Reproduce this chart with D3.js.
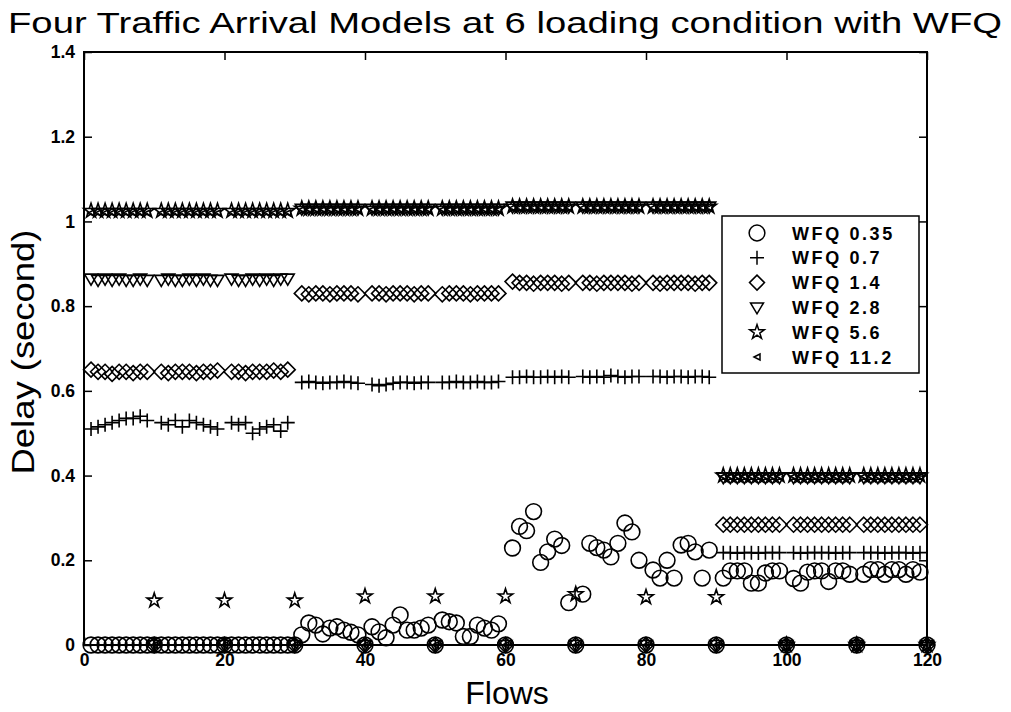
<!DOCTYPE html>
<html>
<head>
<meta charset="utf-8">
<script src="https://cdn.jsdelivr.net/npm/d3@7"></script>
<style>
  body { margin: 0; background: #fff; }
  svg { display: block; }
  text { font-family: "Liberation Sans", Arial, sans-serif; fill: #000; }
</style>
</head>
<body>
<svg id="chart" width="1011" height="712"></svg>
<script>
// flows 1..120, one value per flow (rows of ten flows)
const flows = d3.range(1, 121);

const wfq035 = [
  0,0,0,0,0,0,0,0,0,0,
  0,0,0,0,0,0,0,0,0,0,
  0,0,0,0,0,0,0,0,0,0,
  0.024,0.052,0.047,0.026,0.040,0.043,0.035,0.030,0.024,0,
  0.043,0.031,0.017,0.047,0.071,0.035,0.035,0.040,0.047,0,
  0.059,0.055,0.052,0.020,0.020,0.047,0.040,0.035,0.050,0,
  0.229,0.280,0.270,0.315,0.195,0.220,0.250,0.235,0.100,0,
  0.120,0.240,0.230,0.224,0.208,0.240,0.288,0.267,0.200,0,
  0.177,0.158,0.200,0.158,0.236,0.240,0.220,0.158,0.224,0,
  0.158,0.175,0.175,0.175,0.146,0.146,0.170,0.175,0.175,0,
  0.157,0.146,0.172,0.175,0.175,0.150,0.175,0.175,0.167,0,
  0.167,0.178,0.178,0.167,0.178,0.178,0.167,0.178,0.172,0
];

const wfq07 = [
  0.510,0.515,0.520,0.525,0.530,0.535,0.535,0.540,0.530,0,
  0.525,0.520,0.530,0.515,0.530,0.525,0.520,0.515,0.510,0,
  0.525,0.520,0.525,0.500,0.510,0.515,0.520,0.505,0.525,0,
  0.620,0.622,0.620,0.618,0.620,0.620,0.622,0.620,0.618,0,
  0.615,0.612,0.615,0.618,0.620,0.620,0.618,0.620,0.620,0,
  0.620,0.620,0.622,0.620,0.620,0.622,0.620,0.620,0.622,0,
  0.632,0.632,0.634,0.632,0.632,0.634,0.632,0.634,0.632,0,
  0.634,0.632,0.634,0.632,0.636,0.634,0.632,0.634,0.634,0,
  0.634,0.634,0.632,0.634,0.634,0.632,0.634,0.634,0.632,0,
  0.218,0.218,0.217,0.218,0.218,0.217,0.218,0.218,0.218,0,
  0.218,0.217,0.218,0.218,0.218,0.218,0.217,0.218,0.218,0,
  0.218,0.218,0.218,0.217,0.218,0.218,0.218,0.217,0.218,0
];

const wfq14 = [
  0.650,0.645,0.645,0.640,0.645,0.645,0.642,0.645,0.645,0,
  0.645,0.642,0.645,0.645,0.645,0.642,0.645,0.645,0.648,0,
  0.645,0.645,0.642,0.645,0.645,0.645,0.648,0.645,0.650,0,
  0.830,0.828,0.830,0.830,0.828,0.830,0.830,0.830,0.828,0,
  0.830,0.830,0.828,0.830,0.830,0.830,0.828,0.830,0.830,0,
  0.828,0.830,0.830,0.830,0.828,0.830,0.830,0.830,0.830,0,
  0.858,0.855,0.855,0.853,0.855,0.855,0.855,0.853,0.855,0,
  0.855,0.855,0.853,0.855,0.855,0.855,0.855,0.853,0.855,0,
  0.855,0.853,0.855,0.855,0.855,0.855,0.853,0.855,0.855,0,
  0.284,0.284,0.284,0.284,0.284,0.284,0.284,0.284,0.284,0,
  0.284,0.284,0.284,0.284,0.284,0.284,0.284,0.284,0.284,0,
  0.284,0.284,0.284,0.284,0.284,0.284,0.284,0.284,0.284,0
];

const wfq28 = [
  0.865,0.862,0.865,0.862,0.865,0.862,0.862,0.865,0.862,0,
  0.862,0.865,0.862,0.862,0.865,0.862,0.865,0.862,0.862,0,
  0.865,0.862,0.862,0.865,0.862,0.865,0.862,0.865,0.865,0,
  1.030,1.030,1.030,1.030,1.030,1.030,1.030,1.030,1.030,0,
  1.030,1.030,1.030,1.030,1.030,1.030,1.030,1.030,1.030,0,
  1.030,1.030,1.030,1.030,1.030,1.030,1.030,1.030,1.030,0,
  1.035,1.035,1.035,1.035,1.035,1.035,1.035,1.035,1.035,0,
  1.035,1.035,1.035,1.035,1.035,1.035,1.035,1.035,1.035,0,
  1.035,1.035,1.035,1.035,1.035,1.035,1.035,1.035,1.035,0,
  0.396,0.396,0.396,0.396,0.396,0.396,0.396,0.396,0.396,0,
  0.396,0.396,0.396,0.396,0.396,0.396,0.396,0.396,0.396,0,
  0.396,0.396,0.396,0.396,0.396,0.396,0.396,0.396,0.396,0
];

const wfq56 = [
  1.025,1.025,1.025,1.025,1.025,1.025,1.025,1.025,1.025,0.105,
  1.025,1.025,1.025,1.025,1.025,1.025,1.025,1.025,1.025,0.105,
  1.025,1.025,1.025,1.025,1.025,1.025,1.025,1.025,1.025,0.105,
  1.030,1.030,1.030,1.030,1.030,1.030,1.030,1.030,1.030,0.115,
  1.030,1.030,1.030,1.030,1.030,1.030,1.030,1.030,1.030,0.115,
  1.030,1.030,1.030,1.030,1.030,1.030,1.030,1.030,1.030,0.115,
  1.035,1.035,1.035,1.035,1.035,1.035,1.035,1.035,1.035,0.120,
  1.035,1.035,1.035,1.035,1.035,1.035,1.035,1.035,1.035,0.113,
  1.035,1.035,1.035,1.035,1.035,1.035,1.035,1.035,1.035,0.113,
  0.400,0.400,0.400,0.400,0.400,0.400,0.400,0.400,0.400,0,
  0.400,0.400,0.400,0.400,0.400,0.400,0.400,0.400,0.400,0,
  0.400,0.400,0.400,0.400,0.400,0.400,0.400,0.400,0.400,0
];

const wfq112 = [
  1.020,1.020,1.020,1.020,1.020,1.020,1.020,1.020,1.020,0,
  1.020,1.020,1.020,1.020,1.020,1.020,1.020,1.020,1.020,0,
  1.020,1.020,1.020,1.020,1.020,1.020,1.020,1.020,1.020,0,
  1.028,1.028,1.028,1.028,1.028,1.028,1.028,1.028,1.028,0,
  1.028,1.028,1.028,1.028,1.028,1.028,1.028,1.028,1.028,0,
  1.028,1.028,1.028,1.028,1.028,1.028,1.028,1.028,1.028,0,
  1.032,1.032,1.032,1.032,1.032,1.032,1.032,1.032,1.032,0,
  1.032,1.032,1.032,1.032,1.032,1.032,1.032,1.032,1.032,0,
  1.032,1.032,1.032,1.032,1.032,1.032,1.032,1.032,1.032,0,
  0.398,0.398,0.398,0.398,0.398,0.398,0.398,0.398,0.398,0,
  0.398,0.398,0.398,0.398,0.398,0.398,0.398,0.398,0.398,0,
  0.398,0.398,0.398,0.398,0.398,0.398,0.398,0.398,0.398,0
];

const seriesNames = ['WFQ 0.35', 'WFQ 0.7', 'WFQ 1.4', 'WFQ 2.8', 'WFQ 5.6', 'WFQ 11.2'];
const xTicks = [0, 20, 40, 60, 80, 100, 120];
const yTicks = [0, 0.2, 0.4, 0.6, 0.8, 1, 1.2, 1.4];
const yTickLabels = ['0', '0.2', '0.4', '0.6', '0.8', '1', '1.2', '1.4'];

// marker glyphs, MATLAB style
const markers = [
  d3.symbol().type(d3.symbolCircle).size(195)(),
  'M-7,0H7M0,-7V7',
  'M0,-7.5L7.5,0L0,7.5L-7.5,0Z',
  'M-6.5,-4.5H6.5L0,6.5Z',
  d3.symbol().type(d3.symbolStar).size(65)(),
  'M-3,0L3,-3L3,3Z'
];

const series = [wfq035, wfq07, wfq14, wfq28, wfq56, wfq112].map((vals, i) => ({
  name: seriesNames[i],
  marker: markers[i],
  points: flows.map((f, j) => ({ flow: f, value: vals[j] }))
}));

const svg = d3.select('#chart');
const plotLeft = 84, plotRight = 927, plotTop = 52, plotBottom = 645;

const x = d3.scaleLinear().domain([0, 120]).range([plotLeft, plotRight]);
const y = d3.scaleLinear().domain([0, 1.4]).range([plotBottom, plotTop]);

// title
svg.append('text')
  .attr('x', 8).attr('y', 33)
  .attr('font-size', 30)
  .attr('textLength', 994)
  .attr('lengthAdjust', 'spacingAndGlyphs')
  .text('Four Traffic Arrival Models at 6 loading condition with WFQ');

// axes with inward ticks
const gx = svg.append('g')
  .attr('transform', `translate(0,${plotBottom})`)
  .call(d3.axisBottom(x).tickValues(xTicks).tickSizeInner(-8).tickSizeOuter(0).tickPadding(9));
const gxTop = svg.append('g')
  .attr('transform', `translate(0,${plotTop})`)
  .call(d3.axisTop(x).tickValues(xTicks).tickSizeInner(-8).tickSizeOuter(0).tickFormat(''));
const gy = svg.append('g')
  .attr('transform', `translate(${plotLeft},0)`)
  .call(d3.axisLeft(y).tickValues(yTicks).tickSizeInner(-8).tickSizeOuter(0).tickPadding(9)
    .tickFormat((d, i) => yTickLabels[i]));
const gyRight = svg.append('g')
  .attr('transform', `translate(${plotRight},0)`)
  .call(d3.axisRight(y).tickValues(yTicks).tickSizeInner(-8).tickSizeOuter(0).tickFormat(''));

[gx, gxTop, gy, gyRight].forEach(g => {
  g.select('.domain').remove();
  g.selectAll('line').attr('stroke', '#000').attr('stroke-width', 1.5);
  g.selectAll('text')
    .attr('font-family', '"Liberation Sans", Arial, sans-serif')
    .attr('font-size', 17.5).attr('font-weight', 'bold').attr('fill', '#000');
});

// plot box
svg.append('rect')
  .attr('x', plotLeft).attr('y', plotTop)
  .attr('width', plotRight - plotLeft).attr('height', plotBottom - plotTop)
  .attr('fill', 'none').attr('stroke', '#000').attr('stroke-width', 2);

// axis labels
svg.append('text')
  .attr('x', 507).attr('y', 704)
  .attr('text-anchor', 'middle').attr('font-size', 32)
  .text('Flows');
svg.append('text')
  .attr('transform', 'translate(34,352) rotate(-90)')
  .attr('text-anchor', 'middle').attr('font-size', 32)
  .attr('textLength', 245).attr('lengthAdjust', 'spacingAndGlyphs')
  .text('Delay (second)');

// markers
const plot = svg.append('g');
series.forEach(s => {
  plot.append('g').selectAll('path')
    .data(s.points)
    .join('path')
    .attr('transform', d => `translate(${x(d.flow)},${y(d.value)})`)
    .attr('d', s.marker)
    .attr('fill', 'none')
    .attr('stroke', '#000')
    .attr('stroke-width', 1.6);
});

// legend
const legend = svg.append('g');
legend.append('rect')
  .attr('x', 722).attr('y', 216).attr('width', 197).attr('height', 157)
  .attr('fill', '#fff').attr('stroke', '#000').attr('stroke-width', 1.5);
series.forEach((s, i) => {
  const ly = 233 + i * 24.8;
  legend.append('path')
    .attr('transform', `translate(757,${ly})`)
    .attr('d', s.marker)
    .attr('fill', 'none').attr('stroke', '#000').attr('stroke-width', 1.5);
  legend.append('text')
    .attr('x', 792).attr('y', ly + 6.5)
    .attr('font-size', 18).attr('font-weight', 'bold')
    .attr('letter-spacing', 2.6)
    .text(s.name);
});
</script>
</body>
</html>
